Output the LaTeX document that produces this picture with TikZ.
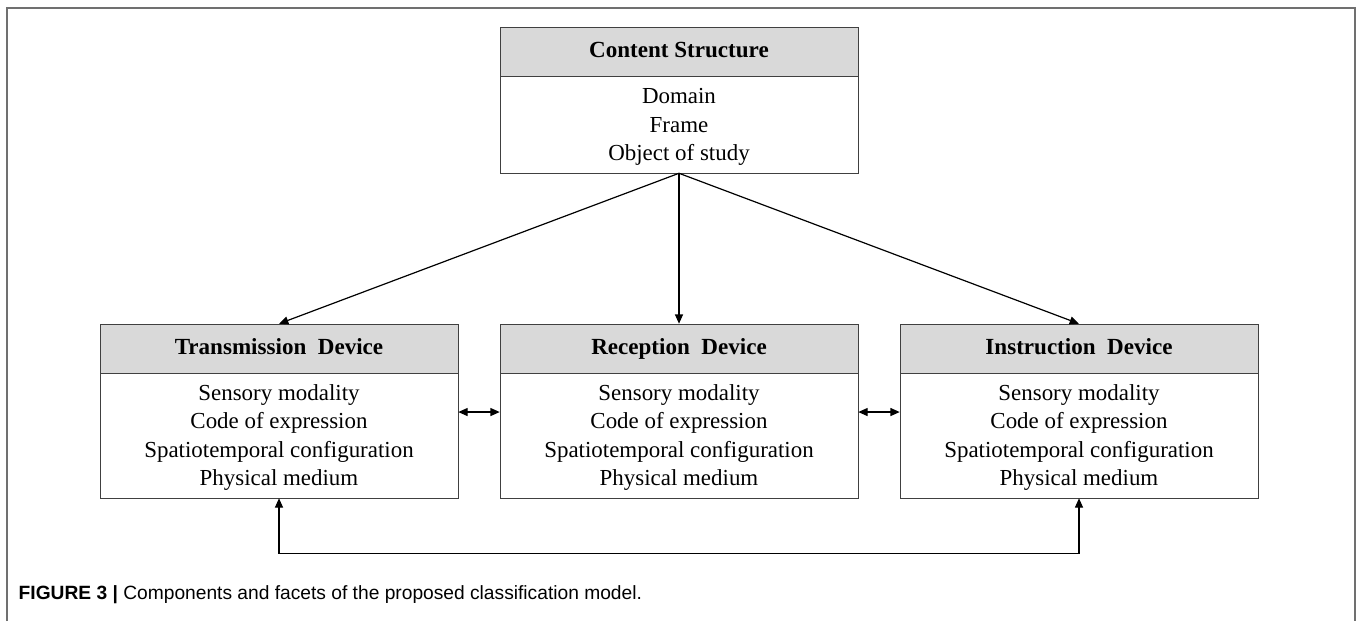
\documentclass[tikz,border=0pt]{standalone}
\usepackage{fontspec}
\setmainfont{Liberation Serif}
\newfontfamily\capfont{Liberation Sans}
\usetikzlibrary{arrows.meta}
\definecolor{headgray}{HTML}{D9D9D9}
\definecolor{framegray}{HTML}{707070}
\definecolor{boxline}{HTML}{404040}
\tikzset{
    headbox/.style={draw=boxline, fill=headgray, minimum width=268.5pt, minimum height=36.75pt,
        inner sep=0pt, text height=12.5pt, text depth=3pt, font=\fontsize{17.3}{20}\selectfont\bfseries},
    facetbox/.style={draw=boxline, fill=white, minimum width=268.5pt, inner sep=0pt,
        align=center, font=\fontsize{17.2}{21.25}\selectfont},
    link/.style={->, line width=0.9pt}
}
\begin{document}
\begin{tikzpicture}[x=0.75pt, y=-0.75pt, >={Stealth[length=7pt, width=6pt, inset=0pt]}]
        \useasboundingbox (0, 0) rectangle (1358, 621);
        % Outer frame, open at the bottom
        \draw[framegray, line width=1.5pt] (7, 621) -- (7, 8) -- (1355, 8) -- (1355, 621);

        % Content structure
        \node[headbox] (csh) at (679, 51.5) {Content Structure};
        \node[facetbox, minimum height=72.75pt] (csb) at (679, 124.5) {\rule{0pt}{15pt}Domain\\Frame\\Object of study};

        % Devices
        \foreach \x/\name/\title in {279/td/Transmission\ \ Device, 679/rd/Reception\ \ Device, 1079/id/Instruction\ \ Device} {
            \node[headbox] (\name h) at (\x, 348.5) {\title};
            \node[facetbox, minimum height=93.75pt] (\name b) at (\x, 435.5)
                {\rule{0pt}{15pt}Sensory modality\\Code of expression\\Spatiotemporal configuration\\Physical medium};
        }

        % Arrows from content structure to devices
        \draw[link] (csb.south) -- (tdh.north);
        \draw[link] (csb.south) -- (rdh.north);
        \draw[link] (csb.south) -- (idh.north);

        % Links between devices
        \draw[link, <->] ([yshift=17.6pt]tdb.east) -- ([yshift=17.6pt]rdb.west);
        \draw[link, <->] ([yshift=17.6pt]rdb.east) -- ([yshift=17.6pt]idb.west);
        \draw[link, <->] (tdb.south) -- ++(0, 55) -| (idb.south);

        % Caption
        \node[anchor=west, font=\capfont\fontsize{14.4}{16}\selectfont] (cap) at (14, 595)
            {\textbf{FIGURE 3 |} Components and facets of the proposed classification model.};
\end{tikzpicture}
\end{document}
